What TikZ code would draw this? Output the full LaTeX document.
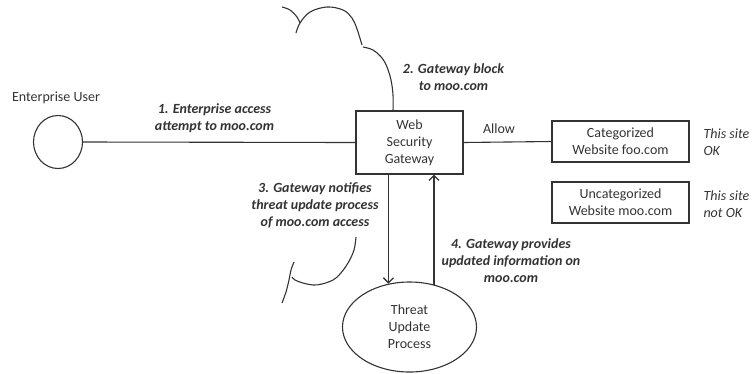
\documentclass[tikz,border=0pt]{standalone}
\usepackage{fontspec}
\setmainfont{Carlito}
\usetikzlibrary{arrows.meta,shapes.geometric}
\definecolor{ink}{HTML}{333333}
\begin{document}
\begin{tikzpicture}[x=1pt,y=-1pt,
  every node/.style={font=\fontsize{14}{17}\selectfont, text=ink},
  plain/.style={draw=ink, line width=1.1pt},
  boxnode/.style={plain, align=center, inner sep=0pt},
  oval/.style={plain, ellipse, align=center, inner sep=0pt},
  lbl/.style={align=center, font=\fontsize{14}{17}\selectfont\bfseries\itshape},
  note/.style={align=left, font=\fontsize{14}{17}\selectfont\itshape, anchor=west},
  arr/.style={plain, -{Straight Barb[length=5pt,width=10pt,line width=1.3pt]}},
  cloudline/.style={draw=ink, line width=1.1pt}
]
\useasboundingbox (0,0) rectangle (752,373);

% actors and processes
\node[oval, minimum width=49pt, minimum height=53pt] (user) at (58,142) {};
\node (userlbl) at (56,98) {Enterprise User};
\node[boxnode, minimum width=107pt, minimum height=63pt] (gw) at (409.5,142.5) {Web\\Security\\Gateway};
\node[oval, minimum width=134pt, minimum height=90pt] (tup) at (409.5,327) {Threat\\Update\\Process};
\node[boxnode, minimum width=137pt, minimum height=41pt] (cat) at (620.5,141.5) {Categorized\\Website foo.com};
\node[boxnode, minimum width=137pt, minimum height=41pt] (uncat) at (620.5,202.5) {Uncategorized\\Website moo.com};

% side notes
\node[note] (ok) at (700,142.5) {This site\\OK};
\node[note] (notok) at (700,204) {This site\\not OK};

% connectors
\draw[plain] (user.east) -- (gw.west);
\draw[plain] (gw.east) -- (cat.west);
\node (allow) at (499,129) {Allow};
\coordinate (dnend) at (tup.116.8);
\coordinate (upstart) at (tup.60.8);
\draw[arr] (gw.south -| dnend) -- (dnend);
\draw[arr] (upstart) -- (gw.south -| upstart);

% step labels
\node[lbl] (s1) at (214.5,118.5) {1. Enterprise access\\attempt to moo.com};
\node[lbl] (s2) at (453.5,77.5) {2. Gateway block\\to moo.com};
\node[lbl] (s3) at (315,205.5) {3. Gateway notifies\\threat update process\\of moo.com access};
\node[lbl] (s4) at (511,261) {4. Gateway provides\\updated information on\\moo.com};

% cloud outline above the gateway
\draw[cloudline] plot[smooth, tension=0.6] coordinates {(282,7) (290,10) (297,17) (300,23)};
\draw[cloudline] plot[smooth, tension=0.6] coordinates {(296,33) (300,23) (310,12) (327,7) (343,10) (352,18) (357,29) (362,45)};
\draw[cloudline] plot[smooth, tension=0.6] coordinates {(363,47) (373,50) (382,58) (387,67) (391,80) (393,95) (393,111)};

% cloud fragment near the threat process
\draw[cloudline] plot[smooth, tension=0.6] coordinates {(356,237) (354,250) (348,263) (340,274) (333,280) (322,284) (313,285) (303,283) (295,280) (292,277)};
\draw[cloudline] plot[smooth, tension=0.6] coordinates {(294,262) (291,270) (289,280) (286,292) (282,303)};
\end{tikzpicture}
\end{document}
